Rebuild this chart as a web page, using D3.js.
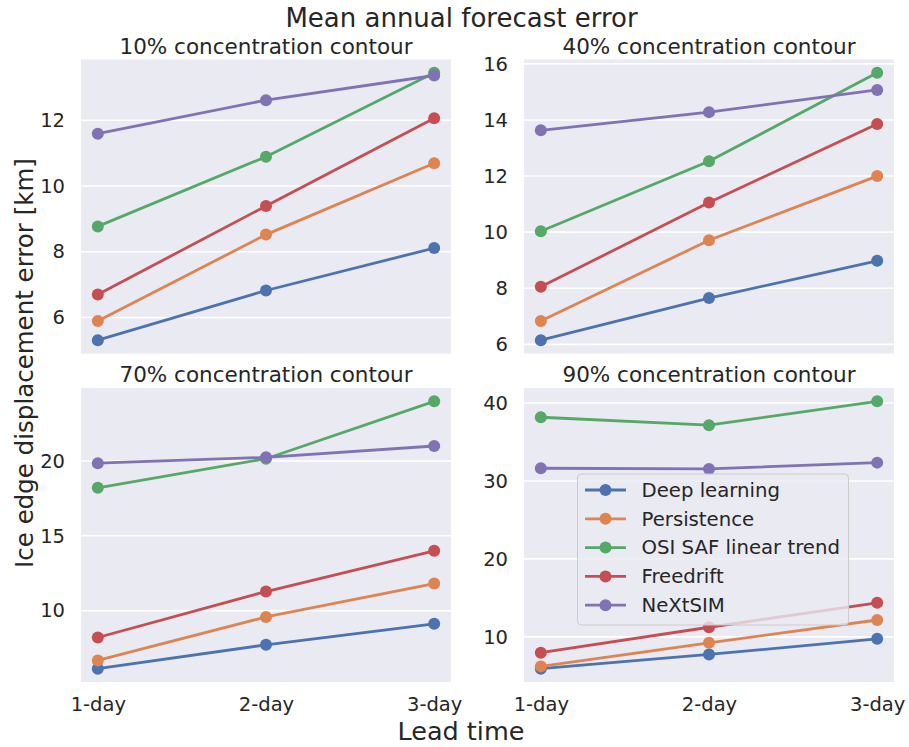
<!DOCTYPE html>
<html>
<head>
<meta charset="utf-8">
<script src="https://cdn.jsdelivr.net/npm/d3@7"></script>
<style>
  body { margin: 0; background: #fff; }
  svg { font-family: 'DejaVu Sans', sans-serif; }
</style>
</head>
<body>
<div id="chart"></div>
<script>
const leadTimes = ['1-day', '2-day', '3-day'];
const methods = ['Deep learning', 'Persistence', 'OSI SAF linear trend', 'Freedrift', 'NeXtSIM'];
const colors = ['#4C72B0', '#DD8452', '#55A868', '#C44E52', '#8172B3'];

const panelTitles = [
  '10% concentration contour',
  '40% concentration contour',
  '70% concentration contour',
  '90% concentration contour',
];

// values per method, per lead time
const err10 = [
  [5.31, 6.82, 8.11],
  [5.89, 8.52, 10.69],
  [8.77, 10.89, 13.44],
  [6.70, 9.39, 12.06],
  [11.59, 12.61, 13.36],
];
const err40 = [
  [6.15, 7.65, 8.98],
  [6.83, 9.71, 12.0],
  [10.03, 12.53, 15.68],
  [8.05, 11.06, 13.86],
  [13.63, 14.28, 15.07],
];
const err70 = [
  [6.13, 7.72, 9.12],
  [6.68, 9.58, 11.81],
  [18.21, 20.15, 23.98],
  [8.21, 11.28, 14.0],
  [19.85, 20.24, 21.0],
];
const err90 = [
  [5.92, 7.74, 9.74],
  [6.21, 9.23, 12.16],
  [38.17, 37.15, 40.21],
  [7.96, 11.23, 14.37],
  [31.63, 31.54, 32.35],
];

const ticks10 = [6, 8, 10, 12];
const ticks40 = [6, 8, 10, 12, 14, 16];
const ticks70 = [10, 15, 20];
const ticks90 = [10, 20, 30, 40];

const w = 909;
const h = 747;
const textColor = '#262626';

const panels = [
  { title: panelTitles[0], data: err10, ticks: ticks10, x: 81, y: 59.5 },
  { title: panelTitles[1], data: err40, ticks: ticks40, x: 524, y: 59.5 },
  { title: panelTitles[2], data: err70, ticks: ticks70, x: 81, y: 388 },
  { title: panelTitles[3], data: err90, ticks: ticks90, x: 524, y: 388 },
];
const pw = 370;
const ph = 294;

const svg = d3
  .select('#chart')
  .append('svg')
  .attr('width', w)
  .attr('height', h);

panels.forEach((p, i) => {
  const g = svg.append('g').attr('transform', 'translate(' + p.x + ',' + p.y + ')');

  const allVals = p.data.flat();
  const [lo, hi] = d3.extent(allVals);
  const pad = (hi - lo) * 0.05;

  const xScale = d3.scalePoint().domain(leadTimes).range([0, pw]).padding(0.1);
  const yScale = d3.scaleLinear().domain([lo - pad, hi + pad]).range([ph, 0]);

  g.append('rect')
    .attr('width', pw)
    .attr('height', ph)
    .attr('fill', '#EAEAF2');

  const yAxis = d3.axisLeft(yScale).tickValues(p.ticks).tickSize(0).tickPadding(16);
  const ya = g.append('g').call(yAxis);
  ya.select('.domain').remove();
  ya.selectAll('text')
    .attr('fill', textColor)
    .attr('font-size', 19.5)
    .attr('font-family', 'DejaVu Sans');

  // horizontal grid
  g.selectAll('.grid')
    .data(p.ticks)
    .enter()
    .append('line')
    .attr('x1', 0)
    .attr('x2', pw)
    .attr('y1', (d) => yScale(d))
    .attr('y2', (d) => yScale(d))
    .attr('stroke', '#fff')
    .attr('stroke-width', 1.6);

  if (i >= 2) {
    const xAxis = d3.axisBottom(xScale).tickSize(0).tickPadding(15);
    const xa = g.append('g').attr('transform', 'translate(0,' + ph + ')').call(xAxis);
    xa.select('.domain').remove();
    xa.selectAll('text')
      .attr('fill', textColor)
      .attr('font-size', 19.5)
      .attr('font-family', 'DejaVu Sans');
  }

  const line = d3
    .line()
    .x((d, j) => xScale(leadTimes[j]))
    .y((d) => yScale(d));

  p.data.forEach((series, k) => {
    g.append('path')
      .datum(series)
      .attr('d', line)
      .attr('fill', 'none')
      .attr('stroke', colors[k])
      .attr('stroke-width', 2.8);
    g.selectAll('.pt' + k)
      .data(series)
      .enter()
      .append('circle')
      .attr('cx', (d, j) => xScale(leadTimes[j]))
      .attr('cy', (d) => yScale(d))
      .attr('r', 6)
      .attr('fill', colors[k]);
  });

  g.append('text')
    .attr('x', pw / 2)
    .attr('y', -6)
    .attr('text-anchor', 'middle')
    .attr('font-size', 21.5)
    .attr('fill', textColor)
    .text(p.title);

  // legend in last panel
  if (i === 3) {
    const lg = svg.append('g').attr('transform', 'translate(577.5,474)');
    lg.append('rect')
      .attr('width', 271)
      .attr('height', 151)
      .attr('rx', 4)
      .attr('fill', '#EAEAF2')
      .attr('fill-opacity', 0.8)
      .attr('stroke', '#cccccc')
      .attr('stroke-width', 1);
    methods.forEach((m, k) => {
      const cy = 16 + k * 28.8;
      lg.append('line')
        .attr('x1', 7.5)
        .attr('x2', 48.5)
        .attr('y1', cy)
        .attr('y2', cy)
        .attr('stroke', colors[k])
        .attr('stroke-width', 2.8);
      lg.append('circle')
        .attr('cx', 28)
        .attr('cy', cy)
        .attr('r', 6)
        .attr('fill', colors[k]);
      lg.append('text')
        .attr('x', 64)
        .attr('y', cy)
        .attr('dy', '0.35em')
        .attr('font-size', 19.7)
        .attr('fill', textColor)
        .text(m);
    });
  }
});

svg.append('text')
  .attr('x', 461.5)
  .attr('y', 27)
  .attr('text-anchor', 'middle')
  .attr('font-size', 26)
  .attr('fill', textColor)
  .text('Mean annual forecast error');

svg.append('text')
  .attr('x', 461)
  .attr('y', 740)
  .attr('text-anchor', 'middle')
  .attr('font-size', 25.5)
  .attr('fill', textColor)
  .text('Lead time');

svg.append('text')
  .attr('transform', 'translate(33,363) rotate(-90)')
  .attr('text-anchor', 'middle')
  .attr('font-size', 24.5)
  .attr('fill', textColor)
  .text('Ice edge displacement error [km]');
</script>
</body>
</html>
